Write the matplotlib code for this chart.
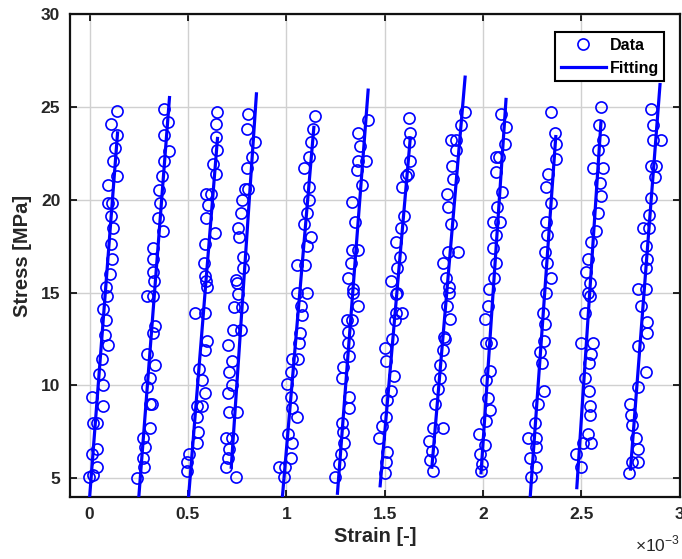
import numpy as np
import matplotlib
matplotlib.use("Agg")
import matplotlib.pyplot as plt

plt.rcParams["font.family"] = ["Liberation Sans", "DejaVu Sans"]
plt.rcParams["font.weight"] = "bold"

# strain in units of 1e-3, stress in MPa, one list per loading cycle
strain_c1 = [0.137, 0.107, 0.137, 0.127, 0.117, 0.137, 0.091, 0.091, 0.112, 0.107, 0.117, 0.107, 0.112, 0.102,
             0.081, 0.086, 0.066, 0.081, 0.076, 0.091, 0.061, 0.046, 0.066, 0.010, 0.066, 0.015, 0.036, 0.010,
             0.036, 0.036, -0.005, 0.015]
stress_c1 = [24.8, 24.1, 23.5, 22.8, 22.1, 21.3, 20.8, 19.8, 19.8, 19.1, 18.5, 17.6, 16.8, 16.0,
             15.3, 14.8, 14.1, 13.5, 12.7, 12.2, 11.4, 10.6, 10.0, 9.4, 8.9, 8.0, 8.0, 6.3,
             6.6, 5.6, 5.1, 5.2]

strain_c2 = [0.376, 0.396, 0.376, 0.406, 0.376, 0.366, 0.355, 0.360, 0.350, 0.371, 0.320, 0.320, 0.320,
             0.325, 0.294, 0.320, 0.330, 0.320, 0.294, 0.330, 0.305, 0.294, 0.305, 0.315, 0.305, 0.270,
             0.279, 0.270, 0.274, 0.243]
stress_c2 = [24.9, 24.2, 23.5, 22.6, 22.1, 21.3, 20.5, 19.8, 19.0, 18.3, 17.4, 16.8, 16.1,
             15.6, 14.8, 14.8, 13.2, 12.8, 11.7, 11.1, 10.4, 9.9, 9.0, 9.0, 7.7, 7.2,
             6.7, 6.1, 5.6, 5.0]

strain_c3 = [0.650, 0.645, 0.645, 0.650, 0.625, 0.640, 0.594, 0.619, 0.604, 0.594, 0.635, 0.584, 0.579, 0.584,
             0.594, 0.599, 0.538, 0.589, 0.599, 0.589, 0.558, 0.569, 0.584, 0.548, 0.569, 0.548, 0.553,
             0.548, 0.503, 0.497, 0.497]
stress_c3 = [24.7, 24.1, 23.4, 22.7, 21.9, 21.4, 20.3, 20.3, 19.7, 19.0, 18.2, 17.6, 16.6, 15.9,
             15.6, 15.3, 13.9, 13.9, 12.4, 11.9, 10.9, 10.3, 9.6, 8.9, 8.9, 8.3, 7.5,
             6.9, 6.3, 5.9, 5.4]

strain_c4 = [0.807, 0.802, 0.843, 0.827, 0.802, 0.792, 0.807, 0.777, 0.772, 0.756, 0.761, 0.782, 0.782, 0.746,
             0.751, 0.756, 0.736, 0.777, 0.731, 0.772, 0.706, 0.726, 0.711, 0.726, 0.701, 0.711, 0.751,
             0.695, 0.726, 0.711, 0.701, 0.695, 0.746]
stress_c4 = [24.6, 23.8, 23.1, 22.3, 21.7, 20.6, 20.6, 20.0, 19.3, 18.5, 18.0, 16.9, 16.3, 15.7,
             15.5, 14.9, 14.2, 14.2, 13.0, 13.0, 12.2, 11.3, 10.7, 10.0, 9.6, 8.6, 8.6,
             7.2, 7.2, 6.6, 6.1, 5.6, 5.1]

strain_c5 = [1.147, 1.137, 1.127, 1.117, 1.091, 1.117, 1.117, 1.107, 1.091, 1.127, 1.107, 1.056, 1.096,
             1.056, 1.107, 1.076, 1.081, 1.071, 1.066, 1.030, 1.061, 1.025, 1.005, 1.025, 1.030, 1.056,
             1.010, 1.030, 1.025, 0.964, 0.995, 0.990]
stress_c5 = [24.5, 23.8, 23.1, 22.3, 21.7, 20.7, 20.0, 19.3, 18.7, 18.0, 17.5, 16.5, 16.5,
             15.0, 15.0, 14.3, 13.8, 12.8, 12.3, 11.4, 11.4, 10.7, 10.1, 9.4, 8.8, 8.3,
             7.4, 6.9, 6.1, 5.6, 5.6, 5.1]

strain_c6 = [1.416, 1.365, 1.376, 1.365, 1.406, 1.360, 1.386, 1.335, 1.350, 1.335, 1.365, 1.330, 1.315, 1.340,
             1.340, 1.365, 1.310, 1.335, 1.315, 1.315, 1.320, 1.290, 1.284, 1.320, 1.320, 1.284, 1.290,
             1.295, 1.279, 1.269, 1.249]
stress_c6 = [24.3, 23.6, 22.9, 22.1, 22.1, 21.6, 20.8, 19.9, 18.8, 17.3, 17.3, 16.6, 15.8, 15.2,
             15.0, 14.3, 13.5, 13.5, 12.9, 12.3, 11.6, 11.0, 10.4, 9.4, 8.8, 8.0, 7.5,
             6.9, 6.3, 5.8, 5.1]

strain_c7 = [1.624, 1.630, 1.624, 1.630, 1.620, 1.610, 1.589, 1.600, 1.584, 1.558, 1.579, 1.563, 1.533, 1.563,
             1.558, 1.558, 1.589, 1.553, 1.538, 1.503, 1.508, 1.548, 1.533, 1.513, 1.508, 1.487, 1.472,
             1.513, 1.508, 1.503]
stress_c7 = [24.4, 23.6, 23.1, 22.1, 21.4, 21.3, 20.7, 19.1, 18.5, 17.7, 16.9, 16.3, 15.6, 15.0,
             14.9, 13.9, 13.9, 13.5, 12.5, 12.0, 11.3, 10.5, 9.7, 9.2, 8.3, 7.8, 7.2,
             6.4, 5.9, 5.3]

strain_c8 = [1.909, 1.888, 1.838, 1.863, 1.863, 1.843, 1.848, 1.817, 1.822, 1.838, 1.822, 1.873, 1.797, 1.812,
             1.827, 1.827, 1.817, 1.833, 1.802, 1.807, 1.797, 1.782, 1.782, 1.772, 1.756, 1.746, 1.797,
             1.726, 1.741, 1.731, 1.746]
stress_c8 = [24.7, 24.0, 23.2, 23.2, 22.7, 21.8, 21.1, 20.3, 19.6, 18.7, 17.2, 17.2, 16.6, 15.8,
             15.3, 15.0, 14.3, 13.6, 12.6, 12.5, 11.9, 11.1, 10.4, 9.8, 9.0, 7.7, 7.7,
             7.0, 6.5, 6.0, 5.4]

strain_c9 = [2.091, 2.117, 2.112, 2.066, 2.081, 2.066, 2.096, 2.071, 2.050, 2.086, 2.066, 2.050, 2.066, 2.056,
             2.030, 2.025, 2.010, 2.015, 2.041, 2.036, 2.015, 2.025, 2.036, 2.015, 1.980, 2.010, 1.985,
             1.995, 1.990]
stress_c9 = [24.6, 23.9, 23.0, 22.3, 22.3, 21.5, 20.4, 19.6, 18.8, 18.8, 18.1, 17.4, 16.6, 15.8,
             15.2, 14.3, 13.6, 12.3, 12.3, 10.8, 10.3, 9.3, 8.7, 8.1, 7.4, 6.8, 6.3,
             5.8, 5.4]

strain_c10 = [2.345, 2.365, 2.370, 2.370, 2.330, 2.320, 2.345, 2.320, 2.325, 2.315, 2.325, 2.345, 2.320,
              2.305, 2.315, 2.310, 2.289, 2.300, 2.310, 2.279, 2.264, 2.228, 2.269, 2.269, 2.239, 2.269,
              2.244]
stress_c10 = [24.7, 23.6, 23.0, 22.2, 21.4, 20.7, 19.8, 18.8, 18.1, 17.2, 16.6, 15.8, 15.0,
              13.9, 13.3, 12.4, 11.8, 11.2, 9.7, 9.0, 8.0, 7.2, 7.2, 6.7, 6.1, 5.6,
              5.1]

strain_c11 = [2.599, 2.589, 2.609, 2.584, 2.558, 2.609, 2.594, 2.599, 2.584, 2.574, 2.548, 2.533, 2.523, 2.543,
              2.533, 2.543, 2.518, 2.497, 2.558, 2.548, 2.538, 2.518, 2.538, 2.543, 2.543, 2.533, 2.548,
              2.508, 2.472, 2.497]
stress_c11 = [25.0, 24.0, 23.2, 22.7, 21.7, 21.7, 20.9, 20.2, 19.3, 18.3, 17.7, 16.8, 16.1, 15.5,
              15.0, 14.8, 13.9, 12.3, 12.3, 11.7, 11.2, 10.4, 9.7, 8.9, 8.4, 7.4, 6.9,
              6.9, 6.3, 5.6]

strain_c12 = [2.853, 2.863, 2.863, 2.904, 2.853, 2.878, 2.873, 2.853, 2.843, 2.812, 2.843, 2.827, 2.832, 2.827,
              2.787, 2.827, 2.802, 2.832, 2.832, 2.787, 2.827, 2.787, 2.746, 2.751, 2.756, 2.777, 2.787,
              2.756, 2.787, 2.741]
stress_c12 = [24.9, 24.0, 23.2, 23.2, 21.8, 21.8, 21.2, 20.1, 19.2, 18.5, 18.5, 17.5, 16.8, 16.3,
              15.2, 15.2, 14.3, 13.4, 12.8, 12.1, 10.7, 9.9, 9.0, 8.4, 7.9, 7.2, 6.6,
              5.9, 5.9, 5.3]

cycles_strain = [strain_c1, strain_c2, strain_c3, strain_c4, strain_c5, strain_c6,
                 strain_c7, strain_c8, strain_c9, strain_c10, strain_c11, strain_c12]
cycles_stress = [stress_c1, stress_c2, stress_c3, stress_c4, stress_c5, stress_c6,
                 stress_c7, stress_c8, stress_c9, stress_c10, stress_c11, stress_c12]

# end points of the linear fit for each cycle (strain 1e-3, stress MPa)
fit_strain_lo = [0.000, 0.250, 0.503, 0.720, 0.980, 1.260, 1.477, 1.740, 1.990, 2.240, 2.477, 2.750]
fit_stress_lo = [4.0, 4.0, 4.0, 5.6, 4.0, 4.2, 4.6, 5.6, 5.3, 4.0, 4.5, 5.5]
fit_strain_hi = [0.142, 0.406, 0.650, 0.848, 1.140, 1.416, 1.630, 1.909, 2.117, 2.370, 2.600, 2.900]
fit_stress_hi = [23.6, 25.5, 23.3, 25.7, 23.9, 25.9, 23.3, 26.6, 25.4, 23.4, 24.2, 26.2]

xticks = [0, 0.5, 1, 1.5, 2, 2.5, 3]
xticklabels = ["0", "0.5", "1", "1.5", "2", "2.5", "3"]
yticks = [5, 10, 15, 20, 25, 30]

blue = (0, 0, 1)

fig = plt.figure(figsize=(6.82, 5.59), dpi=100)
ax = fig.add_axes([0.1026, 0.111, 0.894, 0.864])

for i in range(len(cycles_strain)):
    ax.plot(cycles_strain[i], cycles_stress[i], "o", mfc="none", mec=blue, ms=8, mew=1.2,
            label="Data" if i == 0 else None, zorder=3)
for i in range(len(fit_strain_lo)):
    ax.plot([fit_strain_lo[i], fit_strain_hi[i]], [fit_stress_lo[i], fit_stress_hi[i]],
            "-", color=blue, lw=2.3, label="Fitting" if i == 0 else None, zorder=4)

ax.set_xlim(-0.1, 3)
ax.set_ylim(4, 30)
ax.set_xticks(xticks)
ax.set_xticklabels(xticklabels)
ax.set_yticks(yticks)
ax.grid(True, color="#d0d0d0", lw=1.0)
ax.set_axisbelow(True)
ax.tick_params(direction="in", length=5, width=1.2, top=True, right=True,
               labelsize=12.5, labelcolor="#262626", pad=7)
for sp in ax.spines.values():
    sp.set_linewidth(1.6)
    sp.set_color("#111111")

ax.set_xlabel("Strain [-]", fontsize=14.5, fontweight="bold", color="#262626", labelpad=4)
ax.set_ylabel("Stress [MPa]", fontsize=14.5, fontweight="bold", color="#262626", labelpad=6)
# exponent multiplier for the strain axis
ax.text(1.0, -0.113, "\u00d710$^{\\mathregular{-3}}$", transform=ax.transAxes, ha="right",
        va="baseline", fontsize=12.5, fontweight="normal", color="#262626")

leg = ax.legend(loc="upper right", bbox_to_anchor=(0.975, 0.962), fancybox=False,
                framealpha=1, edgecolor="black", fontsize=11.5, handlelength=2.8,
                handletextpad=0.25, borderpad=0.35, labelspacing=0.5, borderaxespad=0)
leg.get_frame().set_linewidth(1.5)
for t in leg.get_texts():
    t.set_fontweight("bold")

fig.savefig("out.png", dpi=100)
